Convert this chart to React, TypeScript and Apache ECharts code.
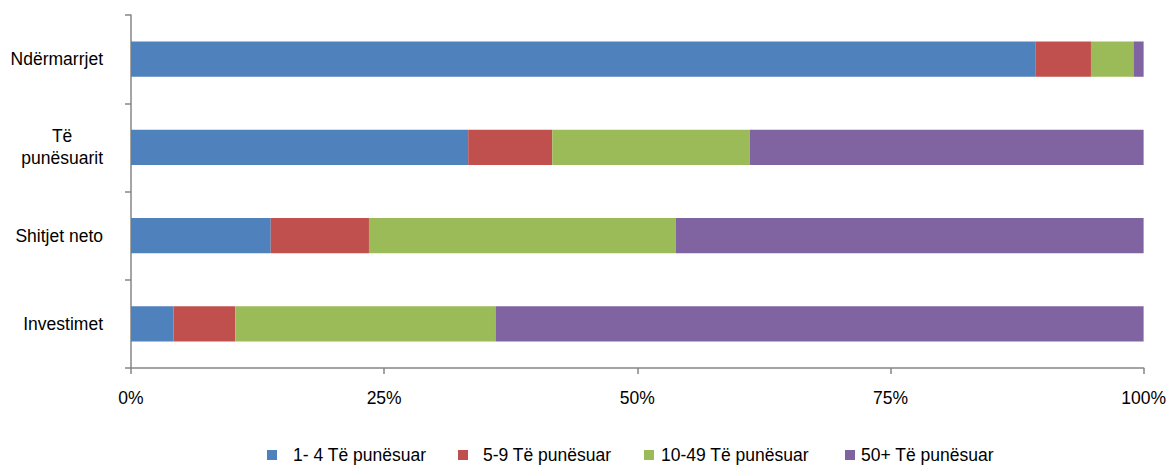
import React, { useEffect, useRef } from "react";
import * as echarts from "echarts";

const categories = ["Ndërmarrjet", "Të punësuarit", "Shitjet neto", "Investimet"];
const seriesNames = ["1- 4 Të punësuar", "5-9 Të punësuar", "10-49 Të punësuar", "50+ Të punësuar"];
const s1to4 = [89.3, 33.3, 13.8, 4.2];
const s5to9 = [5.5, 8.3, 9.7, 6.1];
const s10to49 = [4.2, 19.5, 30.3, 25.7];
const s50plus = [1.0, 38.9, 46.2, 64.0];
const xTicks = [0, 25, 50, 75, 100];
const colors = ["#4F81BD", "#C0504D", "#9BBB59", "#8064A2"];

const FONT = "'Liberation Sans', Arial, sans-serif";

// legend item placement (left px of the square, extra gap before text)
const legendLefts = [267, 458, 644, 845];
const legendTextPad = [11, 10, 2, 1];

export default function App() {
  const ref = useRef<HTMLDivElement>(null);
  useEffect(() => {
    if (!ref.current) return;
    const chart = echarts.init(ref.current, null, { renderer: "svg" });
    const allData = [s1to4, s5to9, s10to49, s50plus];
    chart.setOption({
      animation: false,
      color: colors,
      textStyle: { fontFamily: FONT },
      grid: { left: 131, right: 24, top: 15, bottom: 98, containLabel: false },
      legend: seriesNames.map((name, i) => ({
        left: legendLefts[i],
        top: 446,
        padding: 0,
        itemWidth: 10,
        itemHeight: 10,
        icon: "rect",
        textStyle: {
          fontSize: 17.5,
          color: "#000",
          fontFamily: FONT,
          padding: [0, 0, 0, legendTextPad[i]],
        },
        data: [name],
      })),
      xAxis: {
        type: "value",
        min: xTicks[0],
        max: xTicks[xTicks.length - 1],
        interval: 25,
        splitLine: { show: false },
        axisLine: { show: true, lineStyle: { color: "#868686", width: 1.5 } },
        axisTick: { show: true, length: 6, lineStyle: { color: "#868686", width: 1.5 } },
        axisLabel: {
          formatter: "{value}%",
          margin: 21,
          fontSize: 17.5,
          color: "#000",
          fontFamily: FONT,
        },
      },
      yAxis: {
        type: "category",
        inverse: true,
        data: categories,
        axisLine: { show: true, lineStyle: { color: "#868686", width: 1.5 } },
        axisTick: { show: true, length: 6, alignWithLabel: false, lineStyle: { color: "#868686", width: 1.5 } },
        axisLabel: {
          margin: 28,
          color: "#000",
          fontSize: 17.5,
          fontFamily: FONT,
          formatter: (v: string) => {
            if (v === "Të punësuarit") return "{c|Të}\n{c|punësuarit}";
            return v;
          },
          rich: {
            c: { align: "center", fontSize: 17.5, fontFamily: FONT, color: "#000", lineHeight: 22 },
          },
        },
      },
      series: seriesNames.map((name, i) => ({
        name,
        type: "bar",
        stack: "total",
        barWidth: "40%",
        data: allData[i],
        itemStyle: { color: colors[i] },
      })),
    });
    return () => chart.dispose();
  }, []);
  return (
    <div
      ref={ref}
      style={{ position: "fixed", left: 0, top: 0, width: 1169, height: 466, background: "#fff" }}
    />
  );
}
